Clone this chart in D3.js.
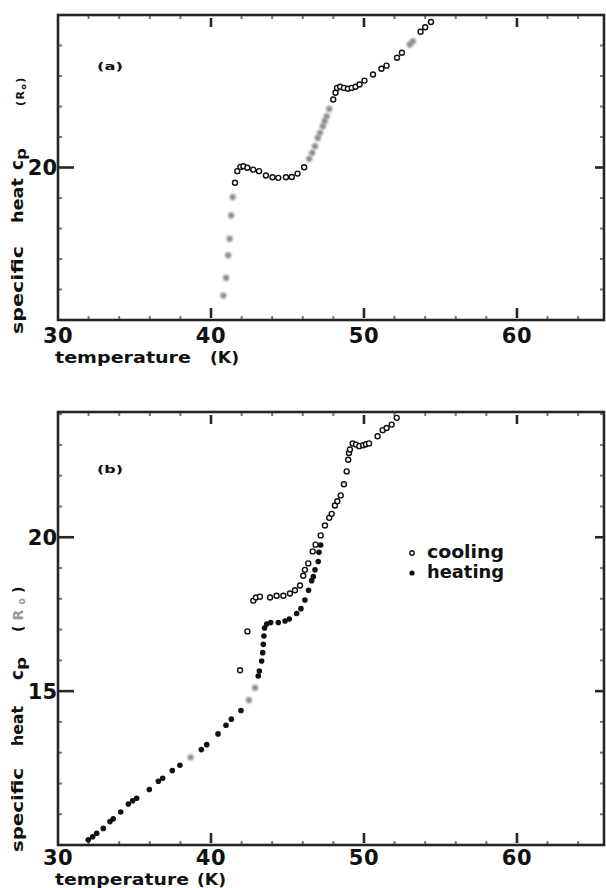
<!DOCTYPE html>
<html>
<head>
<meta charset="utf-8">
<script src="https://cdn.jsdelivr.net/npm/d3@7"></script>
<style>
  body { margin: 0; background: #fff; }
  text { font-family: "DejaVu Sans", sans-serif; font-weight: bold; fill: #111; }
</style>
</head>
<body>
<script>
// panel (a) - open circles
var aTemp = [41.57, 41.72, 41.92, 42.12, 42.38, 42.76, 43.14, 43.59, 44.02, 44.40, 44.90, 45.28, 45.66, 46.09,
  47.99, 48.14, 48.24, 48.44, 48.69, 48.95, 49.20, 49.45, 49.71, 50.03, 50.59, 51.14, 51.47, 52.16, 52.48,
  53.70, 54.00, 54.38];
var aCp = [19.50, 19.88, 20.02, 20.04, 19.99, 19.93, 19.88, 19.74, 19.68, 19.66, 19.68, 19.69, 19.80, 20.01,
  22.23, 22.45, 22.61, 22.65, 22.61, 22.58, 22.61, 22.65, 22.72, 22.85, 23.05, 23.24, 23.34, 23.60, 23.76,
  24.45, 24.60, 24.77];
// panel (a) - points that print as grey smudges
var aTempFaint = [40.81, 40.99, 41.12, 41.22, 41.32, 41.42, 46.42, 46.62, 46.80, 46.98, 47.13, 47.31, 47.43,
  47.56, 47.73, 52.99, 53.19];
var aCpFaint = [15.80, 16.38, 17.12, 17.66, 18.43, 19.03, 20.28, 20.48, 20.70, 20.97, 21.14, 21.35, 21.52,
  21.68, 21.92, 24.03, 24.14];

// panel (b) - cooling (open)
var coolTemp = [41.90, 42.38, 42.77, 42.94, 43.20, 43.86, 44.29, 44.73, 45.16, 45.49, 45.82, 46.03, 46.14,
  46.36, 46.65, 46.84, 47.17, 47.45, 47.73, 47.89, 48.10, 48.26, 48.48, 48.69, 48.87, 48.97, 49.02, 49.08,
  49.26, 49.48, 49.69, 49.95, 50.13, 50.33, 50.89, 51.22, 51.48, 51.81, 52.14];
var coolCp = [15.68, 16.94, 17.94, 18.04, 18.07, 18.04, 18.10, 18.10, 18.17, 18.28, 18.43, 18.75, 18.94,
  19.15, 19.54, 19.76, 20.06, 20.38, 20.63, 20.76, 21.03, 21.17, 21.36, 21.72, 22.14, 22.52, 22.74, 22.85,
  23.05, 23.01, 22.96, 22.99, 23.02, 23.05, 23.28, 23.48, 23.55, 23.66, 23.88];
// panel (b) - heating (filled)
var heatTemp = [31.98, 32.27, 32.53, 32.96, 33.40, 33.61, 34.10, 34.60, 34.88, 35.14, 35.97, 36.56, 36.84,
  37.47, 37.97, 39.37, 39.72, 40.46, 40.98, 41.33, 41.96, 43.09, 43.16, 43.31, 43.38, 43.42, 43.46, 43.50,
  43.64, 43.90, 44.40, 44.84, 45.12, 45.60, 45.88, 46.14, 46.38, 46.58, 46.69, 46.80, 47.01, 47.06, 47.17];
var heatCp = [10.17, 10.27, 10.38, 10.54, 10.76, 10.85, 11.07, 11.33, 11.44, 11.52, 11.80, 12.07, 12.17,
  12.42, 12.59, 13.10, 13.26, 13.61, 13.89, 14.09, 14.37, 15.49, 15.65, 15.98, 16.25, 16.52, 16.79, 17.05,
  17.18, 17.23, 17.23, 17.28, 17.34, 17.52, 17.68, 17.96, 18.28, 18.59, 18.72, 18.94, 19.21, 19.51, 19.75];
var heatTempFaint = [38.67, 42.48, 42.88];
var heatCpFaint = [12.85, 14.71, 15.11];

var xTickLabels = [30, 40, 50, 60];
var yTicksA = [20];
var yTicksB = [15, 20];
var legendLabels = ["cooling", "heating"];

var W = 606, H = 888;
var svg = d3.select("body").append("svg").attr("width", W).attr("height", H);

var defs = svg.append("defs");
defs.append("filter").attr("id", "smudge")
  .attr("x", "-50%").attr("y", "-50%").attr("width", "200%").attr("height", "200%")
  .append("feGaussianBlur").attr("stdDeviation", 0.9);

var x = d3.scaleLinear().domain([30, 65.69]).range([58, 604]);

function pairs(t, c) {
  return t.map(function(d, i) { return [d, c[i]]; });
}

// a word of the rotated y title, stretched to run from y0 (bottom) up to y1
function vword(g, str, bx, y0, y1, size) {
  return g.append("text")
    .attr("transform", "translate(" + bx + "," + y0 + ") rotate(-90)")
    .attr("font-size", size)
    .attr("textLength", y0 - y1).attr("lengthAdjust", "spacingAndGlyphs")
    .text(str);
}

function drawPanel(cfg) {
  var y = d3.scaleLinear().domain(cfg.yDomain).range([cfg.bottom, cfg.top]);
  var g = svg.append("g");
  var ink = "#262626";
  var L = x.range()[0], R = x.range()[1];

  // minor ticks, x every 2 K, y every 1 R
  var xMinor = d3.range(32, 65, 2).filter(function(d) { return xTickLabels.indexOf(d) < 0; });
  var yMinor = d3.range(Math.ceil(cfg.yDomain[0]) + 1, cfg.yDomain[1], 1).filter(function(d) { return cfg.yTicks.indexOf(d) < 0; });
  xMinor.forEach(function(d) {
    g.append("line").attr("x1", x(d)).attr("x2", x(d)).attr("y1", cfg.top).attr("y2", cfg.top + 4)
      .attr("stroke", "#777").attr("stroke-width", 2);
    g.append("line").attr("x1", x(d)).attr("x2", x(d)).attr("y1", cfg.bottom).attr("y2", cfg.bottom - 4)
      .attr("stroke", "#777").attr("stroke-width", 2);
  });
  yMinor.forEach(function(d) {
    g.append("line").attr("x1", L).attr("x2", L + 4).attr("y1", y(d)).attr("y2", y(d))
      .attr("stroke", "#777").attr("stroke-width", 2);
    g.append("line").attr("x1", R).attr("x2", R - 4).attr("y1", y(d)).attr("y2", y(d))
      .attr("stroke", "#777").attr("stroke-width", 2);
  });

  // major ticks
  xTickLabels.slice(1).forEach(function(d) {
    g.append("line").attr("x1", x(d)).attr("x2", x(d)).attr("y1", cfg.top + 3).attr("y2", cfg.top + 12)
      .attr("stroke", ink).attr("stroke-width", 2.6);
    g.append("line").attr("x1", x(d)).attr("x2", x(d)).attr("y1", cfg.bottom - 2).attr("y2", cfg.bottom - 12)
      .attr("stroke", ink).attr("stroke-width", 2.6);
  });
  cfg.yTicks.forEach(function(d) {
    g.append("line").attr("x1", L).attr("x2", L + 16).attr("y1", y(d)).attr("y2", y(d))
      .attr("stroke", ink).attr("stroke-width", 2.6);
    g.append("line").attr("x1", R).attr("x2", R - 9).attr("y1", y(d)).attr("y2", y(d))
      .attr("stroke", ink).attr("stroke-width", 2.6);
    g.append("text").attr("x", L - 1).attr("y", y(d) + 7.5)
      .attr("text-anchor", "end").attr("font-size", 21).text(d);
  });

  // frame
  g.append("rect").attr("x", L).attr("y", cfg.top)
    .attr("width", R - L).attr("height", cfg.bottom - cfg.top)
    .attr("fill", "none").attr("stroke", ink).attr("stroke-width", 2.6);

  // x tick labels
  g.selectAll(".xl").data(xTickLabels).enter().append("text")
    .attr("x", function(d) { return x(d); }).attr("y", cfg.bottom + cfg.labelGap)
    .attr("text-anchor", "middle").attr("font-size", 21).attr("letter-spacing", 0.5)
    .text(function(d) { return d; });

  // x title
  g.append("text").attr("x", 55).attr("y", cfg.titleY).attr("font-size", 16)
    .attr("textLength", cfg.tempEnd - 55).attr("lengthAdjust", "spacingAndGlyphs")
    .text("temperature");
  g.append("text").attr("x", cfg.kStart).attr("y", cfg.titleY).attr("font-size", 16)
    .attr("textLength", 29).attr("lengthAdjust", "spacingAndGlyphs")
    .text("(K)");

  // y title, reads bottom to top
  var p = cfg.yTitle;
  vword(g, "specific", 23, p.specific[0], p.specific[1], 16);
  vword(g, "heat", 23, p.heat[0], p.heat[1], 16);
  vword(g, "c", 23, p.c[0], p.c[1], 17);
  vword(g, "p", 26, p.p[0], p.p[1], 14);
  var rt = g.append("text")
    .attr("transform", "translate(" + p.rx + "," + p.r0 + ") rotate(-90)")
    .attr("font-size", p.rSize).attr("letter-spacing", p.rGap);
  rt.append("tspan").text("(");
  rt.append("tspan").attr("fill", p.rColor).text("R");
  rt.append("tspan").attr("dy", 2).attr("font-size", p.rSize * 0.7).attr("fill", p.rColor).text("o");
  rt.append("tspan").attr("dy", -2).text(")");

  g.append("text").attr("x", 97).attr("y", cfg.tagY).attr("font-size", 11)
    .attr("textLength", 26).attr("lengthAdjust", "spacingAndGlyphs")
    .text(cfg.tag);

  cfg.series.forEach(function(s) {
    g.selectAll(null).data(pairs(s.t, s.c)).enter().append("circle")
      .attr("cx", function(d) { return x(d[0]); })
      .attr("cy", function(d) { return y(d[1]); })
      .attr("r", s.r)
      .attr("fill", s.fill)
      .attr("stroke", s.stroke)
      .attr("stroke-width", s.sw)
      .attr("filter", s.blur ? "url(#smudge)" : null);
  });

  return { g: g, y: y };
}

var openStyle = { r: 2.5, fill: "#fff", stroke: "#111", sw: 1.4 };
var faintStyle = { r: 3.1, fill: "#8c8c8c", stroke: "none", sw: 0, blur: true };
var dotStyle = { r: 2.8, fill: "#111", stroke: "none", sw: 0 };

drawPanel({
  top: 15, bottom: 320, yDomain: [15, 25], yTicks: yTicksA,
  labelGap: 23, titleY: 363, tempEnd: 191, kStart: 210,
  yTitle: { specific: [334, 246], heat: [223, 178], c: [170, 160], p: [160, 148],
    r0: 106, rx: 24, rSize: 11, rGap: 1.5, rColor: "#111" },
  tag: "(a)", tagY: 70,
  series: [
    Object.assign({ t: aTempFaint, c: aCpFaint }, faintStyle),
    Object.assign({ t: aTemp, c: aCp }, openStyle)
  ]
});

var pb = drawPanel({
  top: 412, bottom: 845, yDomain: [10, 24.07], yTicks: yTicksB,
  labelGap: 20, titleY: 885, tempEnd: 189, kStart: 197,
  yTitle: { specific: [852, 768], heat: [746, 706], c: [680, 670], p: [670, 657],
    r0: 632, rx: 23, rSize: 14, rGap: 5, rColor: "#999" },
  tag: "(b)", tagY: 473,
  series: [
    Object.assign({ t: heatTempFaint, c: heatCpFaint }, faintStyle),
    Object.assign({ t: heatTemp, c: heatCp }, dotStyle),
    Object.assign({ t: coolTemp, c: coolCp }, openStyle)
  ]
});

// legend
var leg = pb.g.append("g").attr("transform", "translate(412,553)");
legendLabels.forEach(function(name, i) {
  leg.append("circle").attr("cx", 0).attr("cy", i * 20).attr("r", i === 0 ? 2.2 : 2.6)
    .attr("fill", i === 0 ? "#fff" : "#111").attr("stroke", "#111").attr("stroke-width", i === 0 ? 1.4 : 0);
  leg.append("text").attr("x", 15).attr("y", i * 20 + 5).attr("font-size", 18)
    .attr("textLength", 77).attr("lengthAdjust", "spacingAndGlyphs")
    .text(name);
});
</script>
</body>
</html>
